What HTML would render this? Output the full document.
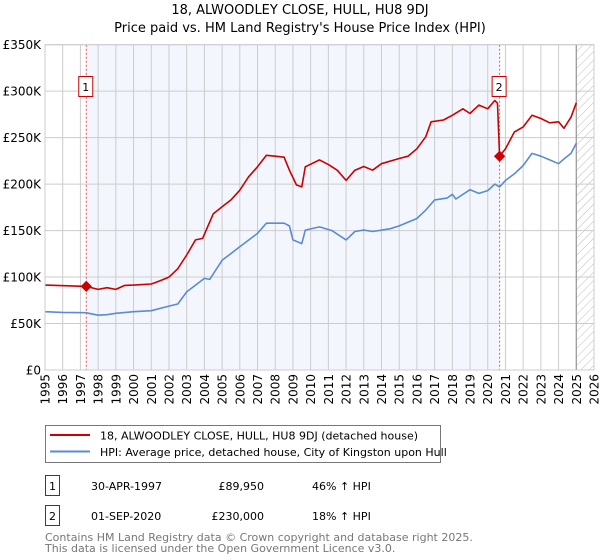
<!DOCTYPE html>
<html><head><meta charset="utf-8"><style>
body{margin:0;background:#fff;width:600px;height:560px;overflow:hidden;font-family:"DejaVu Sans","Liberation Sans",sans-serif}
svg{display:block}
</style></head><body>
<svg id="chart" width="600" height="560" xmlns="http://www.w3.org/2000/svg">
<defs><pattern id="hatch" width="6" height="6" patternUnits="userSpaceOnUse" patternTransform="rotate(45)"><line x1="0" y1="0" x2="0" y2="6" stroke="#bbb" stroke-width="1"/></pattern></defs>
<text x="300" y="14" text-anchor="middle" font-size="13" fill="#000">18, ALWOODLEY CLOSE, HULL, HU8 9DJ</text>
<text x="300" y="32" text-anchor="middle" font-size="13" fill="#000">Price paid vs. HM Land Registry's House Price Index (HPI)</text>
<g id="plot"></g>
<g>
<rect x="45.5" y="425.5" width="395" height="37" fill="#fff" stroke="#777"/>
<line x1="50" y1="435" x2="90" y2="435" stroke="#cc0000" stroke-width="2"/>
<text x="100" y="439.5" font-size="11">18, ALWOODLEY CLOSE, HULL, HU8 9DJ (detached house)</text>
<line x1="50" y1="451.5" x2="90" y2="451.5" stroke="#5b8bd0" stroke-width="2"/>
<text x="100" y="456" font-size="11">HPI: Average price, detached house, City of Kingston upon Hull</text>
</g>
<g font-size="11">
<rect x="45.5" y="475.5" width="14" height="20" fill="#fff" stroke="#cc0000"/>
<text x="52.5" y="490" text-anchor="middle">1</text>
<text x="91" y="490">30-APR-1997</text>
<text x="264" y="490" text-anchor="end">£89,950</text>
<text x="312" y="490">46% ↑ HPI</text>
<rect x="45.5" y="505.5" width="14" height="20" fill="#fff" stroke="#cc0000"/>
<text x="52.5" y="520" text-anchor="middle">2</text>
<text x="91" y="520">01-SEP-2020</text>
<text x="264" y="520" text-anchor="end">£230,000</text>
<text x="312" y="520">18% ↑ HPI</text>
</g>
<text x="45" y="541" font-size="11" fill="#777">Contains HM Land Registry data © Crown copyright and database right 2025.</text>
<text x="45" y="552" font-size="11" fill="#777">This data is licensed under the Open Government Licence v3.0.</text>
</svg>
<script>
const yTicks=[0,50000,100000,150000,200000,250000,300000,350000];
const yTickLabels=["£0","£50K","£100K","£150K","£200K","£250K","£300K","£350K"];
const xYears=[1995,1996,1997,1998,1999,2000,2001,2002,2003,2004,2005,2006,2007,2008,2009,2010,2011,2012,2013,2014,2015,2016,2017,2018,2019,2020,2021,2022,2023,2024,2025,2026];
const hpiDates=[1995,1996,1997.3,1998,1998.5,1999,2000,2001,2002,2002.5,2003,2004,2004.3,2005,2006,2007,2007.5,2008,2008.5,2008.8,2009,2009.5,2009.7,2010.5,2011.2,2012,2012.5,2013,2013.5,2014.5,2015,2016,2016.5,2017,2017.7,2018,2018.2,2019,2019.5,2020,2020.4,2020.67,2021,2021.5,2022,2022.5,2023,2023.5,2024,2024.3,2024.7,2025];
const hpiValues=[62700,62000,61600,59000,59500,61000,62700,63800,68800,71000,84000,98600,97500,118000,132600,147000,158000,158000,158000,155000,140000,136000,150500,154000,150000,140000,149000,150500,149000,152000,155000,163000,172000,183000,185000,189000,184000,194000,190000,193000,200000,197000,204000,211000,220000,233000,230000,226000,222000,227000,233000,244000];
const priceDates=[1995,1996.5,1997.33,1998,1998.5,1999,1999.5,2000,2001,2001.5,2002,2002.5,2003,2003.5,2003.9,2004.5,2005,2005.5,2006,2006.5,2007,2007.5,2008,2008.5,2008.8,2009.2,2009.5,2009.7,2010.5,2011,2011.5,2012,2012.5,2013,2013.5,2014,2015,2015.5,2016,2016.5,2016.8,2017.5,2018,2018.6,2019,2019.5,2020,2020.4,2020.55,2020.67,2021,2021.5,2022,2022.5,2023,2023.5,2024,2024.3,2024.7,2025];
const priceValues=[91400,90500,89950,86700,88500,86700,91000,91400,92500,96000,100000,109000,123700,140000,141600,168000,175600,183000,193500,208000,218600,231000,230000,229000,215000,199000,197000,218600,226000,221000,215000,204000,215000,219000,215000,222000,227600,230000,238000,251000,267000,269000,274000,281000,276000,285000,281000,290000,287000,230000,238000,256000,261600,274000,270600,266000,267000,260000,272000,287500];
const sales=[{d:1997.33,v:89950,label:"1"},{d:2020.67,v:230000,label:"2"}];
const X0=45,X1=594,Y0=370,Y1=44.7;
function xs(d){return X0+(d-1995)/(2026-1995)*(X1-X0);}
function ys(v){return Y0-v/350000*(Y0-Y1);}
const NS="http://www.w3.org/2000/svg";
const g=document.getElementById('plot');
function mk(t,a,p){const e=document.createElementNS(NS,t);for(const k in a)e.setAttribute(k,a[k]);(p||g).appendChild(e);return e;}
let e;
e=mk('rect',{x:xs(1997.33),y:Y1,width:xs(2020.67)-xs(1997.33),height:Y0-Y1,fill:'#eef3fc',opacity:0.7});


e=mk('rect',{x:xs(2025),y:Y1,width:X1-xs(2025),height:Y0-Y1,fill:'url(#hatch)'});


xYears.forEach(y=>{
 e=mk('line',{x1:xs(y),x2:xs(y),y1:Y1,y2:Y0,stroke:'#ccc','stroke-width':1});
 
 
 const x=xs(y),ty=Y0+4;
 e=mk('text',{x:x+4.5,y:ty,'font-size':12,'text-anchor':'end',transform:`rotate(-90 ${x+4.5} ${ty})`});
 e.textContent=y;
 
 
});
yTicks.forEach((v,i)=>{
 e=mk('line',{x1:X0,x2:X1,y1:ys(v),y2:ys(v),stroke:'#ccc','stroke-width':1});
 
 
 e=mk('text',{x:X0-4,y:ys(v)+4.5,'font-size':12,'text-anchor':'end'});
 e.textContent=yTickLabels[i];
 
 
});
e=mk('line',{x1:xs(2025),x2:xs(2025),y1:Y1,y2:Y0,stroke:'#999','stroke-width':1.2});


sales.forEach(s=>{
 e=mk('line',{x1:xs(s.d),x2:xs(s.d),y1:Y1,y2:Y0,stroke:'#e05555','stroke-dasharray':'2,2','stroke-width':1});
 
 
});
function path(ds,vs,c,name){
 const d=ds.map((t,i)=>(i?'L':'M')+xs(t).toFixed(1)+','+ys(vs[i]).toFixed(1)).join(' ');
 const p=mk('path',{d:d,fill:'none',stroke:c,'stroke-width':1.6,'stroke-linejoin':'round'});
 
 
}
path(hpiDates,hpiValues,'#5b8bd0','hpi-line');
path(priceDates,priceValues,'#cc0000','price-line');
sales.forEach(s=>{
 const x=xs(s.d),y=ys(s.v);
 e=mk('rect',{x:x-4,y:y-4,width:8,height:8,fill:'#cc0000',transform:`rotate(45 ${x} ${y})`});
 
 
 e=mk('rect',{x:x-7.5,y:76.5,width:14,height:20,fill:'#fff',stroke:'#cc0000'});
 
 
 e=mk('text',{x:x-0.5,y:91,'font-size':11,'text-anchor':'middle'});
 e.textContent=s.label;
 
 
});
e=mk('rect',{x:X0,y:Y1,width:X1-X0,height:Y0-Y1,fill:'none',stroke:'#ccc'});


</script>
</body></html>
